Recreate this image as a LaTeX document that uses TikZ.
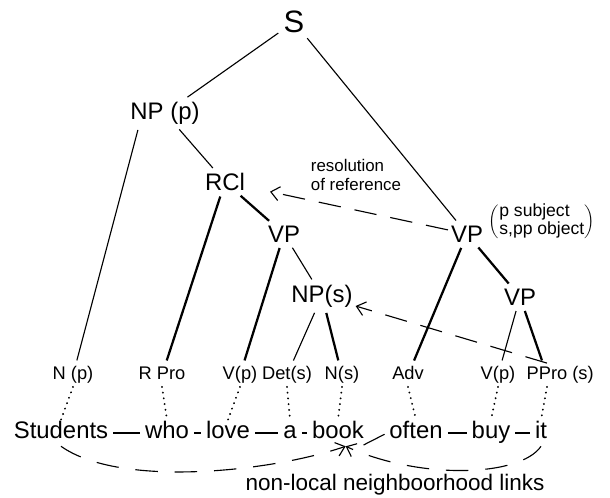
\documentclass[tikz,border=0pt]{standalone}
\usepackage{fontspec}
\setmainfont{Liberation Sans}
\usetikzlibrary{arrows.meta}

\begin{document}
\begin{tikzpicture}[x=0.025cm, y=-0.025cm,
  cat/.style={font=\fontsize{17}{19}\selectfont, inner sep=2pt},
  leaf/.style={font=\fontsize{13}{15}\selectfont, inner sep=2pt, text height=9.5pt, text depth=3pt},
  word/.style={font=\fontsize{17}{19}\selectfont, inner sep=1.5pt, text height=12pt, text depth=3.5pt},
  branch/.style={line width=0.8pt, shorten <=2pt, shorten >=2pt},
  heavy/.style={branch, line width=1.6pt},
  tie/.style={dash pattern=on 0.1pt off 4pt, line width=1.4pt, line cap=round},
  link/.style={line width=0.8pt, shorten <=2pt, shorten >=2pt},
  reflink/.style={line width=0.8pt, dash pattern=on 16pt off 10pt, -{Straight Barb[length=6pt,width=10pt]}},
  nonlocal/.style={line width=0.8pt, dash pattern=on 16pt off 12pt, -{Straight Barb[length=6pt,width=10pt]}}]
\useasboundingbox (0,0) rectangle (610,498);

\node[cat, font=\fontsize{22}{24}\selectfont] (s) at (294,22) {S};
\node[cat] (np) at (165,113) {NP (p)};
\node[cat] (rcl) at (225,182) {RCl};
\node[cat] (vpi) at (284,234) {VP};
\node[cat] (vpr) at (467,234) {VP};
\node[font=\fontsize{12.5}{12.5}\selectfont, anchor=west] (role) at (484,222) {$\left(\begin{tabular}{@{}l@{}}p subject\\s,pp object\end{tabular}\right)$};
\node[cat] (nps) at (322,296) {NP(s)};
\node[cat] (vpl) at (520,297) {VP};

\node[leaf] (np1) at (73,375) {N (p)};
\node[leaf] (rpro) at (162,375) {R Pro};
\node[leaf] (vp1) at (240,375) {V(p)};
\node[leaf] (det) at (287,375) {Det(s)};
\node[leaf] (ns) at (342,375) {N(s)};
\node[leaf] (adv) at (408,375) {Adv};
\node[leaf] (vp2) at (498,375) {V(p)};
\node[leaf] (ppro) at (547,375) {PPro\rlap{\ (s)}};

\node[word] (students) at (61,433) {Students};
\node[word] (who) at (167,433) {who};
\node[word] (love) at (228,433) {love};
\node[word] (a) at (290,433) {a};
\node[word] (book) at (338,433) {book};
\node[word] (often) at (416,433) {often};
\node[word] (buy) at (491,433) {buy};
\node[word] (it) at (541,433) {it};

\draw[branch] (s) -- (np);
\draw[branch] (s) -- (vpr);
\draw[branch] ([xshift=8pt]np.south west) -- (np1);
\draw[branch] (np) -- (rcl);
\draw[heavy] (rcl) -- (rpro);
\draw[heavy] (rcl) -- (vpi);
\draw[heavy] (vpi) -- (vp1);
\draw[branch] (vpi) -- (nps);
\draw[branch] (nps) -- (det);
\draw[heavy] (nps) -- (ns);
\draw[heavy] (vpr) -- (adv);
\draw[heavy] (vpr) -- (vpl);
\draw[branch] (vpl) -- (vp2);
\draw[heavy] (vpl) -- (ppro);

\draw[tie] (np1.south) -- (students.north);
\draw[tie] (rpro.south) -- (who.north);
\draw[tie] (vp1.south) -- (love.north);
\draw[tie] (det.south) -- (a.north);
\draw[tie] (ns.south) -- (book.north);
\draw[tie] (adv.south) -- (often.north);
\draw[tie] (vp2.south) -- (buy.north);
\draw[tie] (ppro.south) -- (it.north);

\draw[link] (students) -- (who);
\draw[link] (who) -- (love);
\draw[link] (love) -- (a);
\draw[link] (a) -- (book);
\draw[link] (often.west) -- (book.-30);
\draw[link] (often) -- (buy);
\draw[link] (buy) -- (it);

\draw[reflink, shorten >=16pt] (vpr) -- (rcl);
\node[font=\fontsize{12}{13}\selectfont, align=left, anchor=west] (refnote) at (306,175) {resolution\\of reference};
\draw[reflink] (ppro.north) -- (nps);

\draw[nonlocal] (students.south) .. controls (120,488) and (270,472) .. (book.-60);
\draw[nonlocal] (it.south) .. controls (520,477) and (420,480) .. (book.-60);
\node[font=\fontsize{16}{18}\selectfont] (nllabel) at (395,485) {non-local neighboorhood links};
\end{tikzpicture}
\end{document}
